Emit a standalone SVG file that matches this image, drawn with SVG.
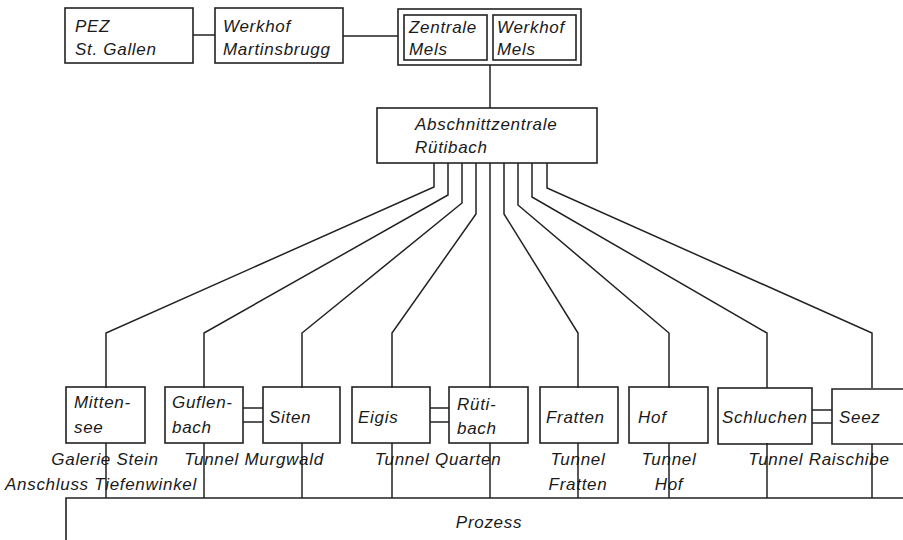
<svg xmlns="http://www.w3.org/2000/svg" width="903" height="540" viewBox="0 0 903 540">
<style>
.b{fill:none;stroke:#222;stroke-width:1.6}
.l{fill:none;stroke:#222;stroke-width:1.5}
text{font-family:"Liberation Sans",Arial,sans-serif;font-style:italic;font-size:17px;fill:#1a1a1a;letter-spacing:0.7px}
.c{text-anchor:middle}
</style>
<rect width="903" height="540" fill="#fff"/>
<g id="connectors">
<line class="l" x1="193" y1="35" x2="215" y2="35"/>
<line class="l" x1="343" y1="36" x2="398" y2="36"/>
<line class="l" x1="490" y1="65" x2="490" y2="108"/>
<polyline class="l" points="434,163 434,187 106,333 106,388"/>
<polyline class="l" points="448,163 448,195 204,333 204,388"/>
<polyline class="l" points="462,163 462,203 302,333 302,388"/>
<polyline class="l" points="476,163 476,214 392,333 392,388"/>
<line class="l" x1="490" y1="163" x2="490" y2="388"/>
<polyline class="l" points="504,163 504,214 578,333 578,388"/>
<polyline class="l" points="518,163 518,205 669,333 669,388"/>
<polyline class="l" points="532,163 532,197 767,333 767,388"/>
<polyline class="l" points="547,163 547,188 872,333 872,388"/>
<line class="l" x1="243" y1="408" x2="263" y2="408"/>
<line class="l" x1="243" y1="422" x2="263" y2="422"/>
<line class="l" x1="430" y1="408" x2="449" y2="408"/>
<line class="l" x1="430" y1="422" x2="449" y2="422"/>
<line class="l" x1="812" y1="410" x2="832" y2="410"/>
<line class="l" x1="812" y1="423" x2="832" y2="423"/>
<line class="l" x1="106" y1="443" x2="106" y2="498"/>
<line class="l" x1="204" y1="443" x2="204" y2="498"/>
<line class="l" x1="302" y1="443" x2="302" y2="498"/>
<line class="l" x1="392" y1="443" x2="392" y2="498"/>
<line class="l" x1="490" y1="443" x2="490" y2="498"/>
<line class="l" x1="578" y1="443" x2="578" y2="498"/>
<line class="l" x1="669" y1="443" x2="669" y2="498"/>
<line class="l" x1="767" y1="443" x2="767" y2="498"/>
<line class="l" x1="872" y1="444" x2="872" y2="498"/>
</g>
<g id="pez"><rect class="b" x="65" y="8" width="128" height="55"/><text x="75" y="32">PEZ</text><text x="75" y="55">St. Gallen</text></g>
<g id="martinsbrugg"><rect class="b" x="215" y="8" width="128" height="55"/><text x="223" y="32">Werkhof</text><text x="223" y="55">Martinsbrugg</text></g>
<g id="mels"><rect class="b" x="398" y="9" width="183" height="56"/>
<rect class="b" x="404" y="15" width="83" height="45"/><text x="409" y="33">Zentrale</text><text x="409" y="55">Mels</text>
<rect class="b" x="493" y="15" width="83" height="45"/><text x="497" y="33">Werkhof</text><text x="497" y="55">Mels</text></g>
<g id="abschnittzentrale"><rect class="b" x="377" y="108" width="220" height="55"/><text x="415" y="130">Abschnittzentrale</text><text x="415" y="153">Rütibach</text></g>
<g id="mittensee"><rect class="b" x="66" y="387" width="79" height="56"/><text x="74" y="408">Mitten-</text><text x="74" y="433">see</text></g>
<g id="guflenbach"><rect class="b" x="165" y="387" width="78" height="56"/><text x="172" y="408">Guflen-</text><text x="172" y="433">bach</text></g>
<g id="siten"><rect class="b" x="263" y="387" width="77" height="56"/><text x="269" y="423">Siten</text></g>
<g id="eigis"><rect class="b" x="352" y="387" width="78" height="56"/><text x="358" y="423">Eigis</text></g>
<g id="ruetibach"><rect class="b" x="449" y="387" width="79" height="56"/><text x="457" y="410">Rüti-</text><text x="457" y="434">bach</text></g>
<g id="fratten"><rect class="b" x="540" y="387" width="78" height="56"/><text x="546" y="423">Fratten</text></g>
<g id="hof"><rect class="b" x="629" y="387" width="79" height="56"/><text x="638" y="423">Hof</text></g>
<g id="schluchen"><rect class="b" x="718" y="388" width="94" height="56"/><text x="722" y="423">Schluchen</text></g>
<g id="seez"><path class="b" d="M905,389 H832 V444 H905"/><text x="839" y="423">Seez</text></g>
<g id="prozess"><path class="b" d="M66,542 V498 H905"/><text class="c" x="489" y="528">Prozess</text></g>
<g id="labels">
<text class="c" x="105" y="465">Galerie Stein</text>
<text class="c" x="101" y="490">Anschluss Tiefenwinkel</text>
<text class="c" x="254" y="465">Tunnel Murgwald</text>
<text class="c" x="438" y="465">Tunnel Quarten</text>
<text class="c" x="578" y="465">Tunnel</text>
<text class="c" x="578" y="490">Fratten</text>
<text class="c" x="669" y="465">Tunnel</text>
<text class="c" x="669" y="490">Hof</text>
<text class="c" x="819" y="465">Tunnel Raischibe</text>
</g>
</svg>
